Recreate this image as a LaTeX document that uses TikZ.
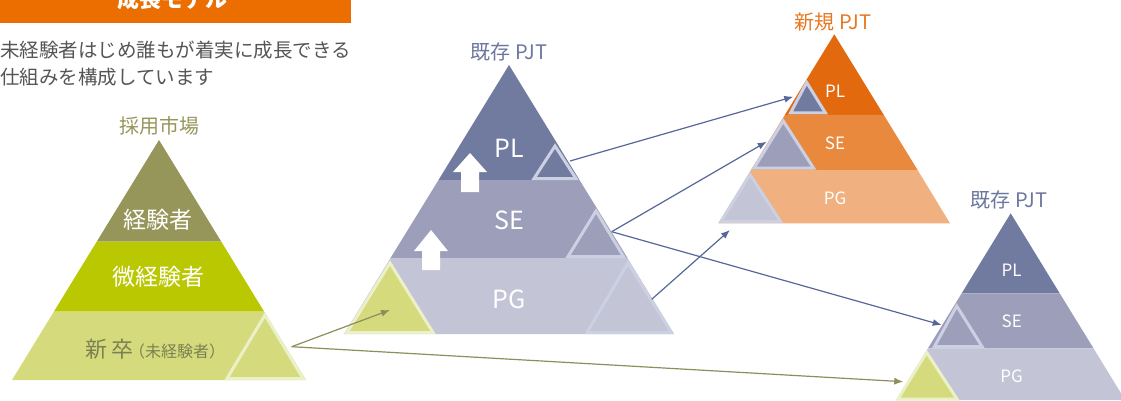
\documentclass[tikz,border=0pt]{standalone}
\usepackage{fontspec}
\setmainfont{Noto Sans CJK JP}
\usetikzlibrary{arrows.meta}
% couleurs
\definecolor{bandeau}{HTML}{EC6D00}
\definecolor{texte}{HTML}{555555}
\definecolor{olive}{HTML}{96955A}
\definecolor{lime}{HTML}{B9C800}
\definecolor{limeclair}{HTML}{D5DB7D}
\definecolor{limebord}{HTML}{EBF0C8}
\definecolor{bleuPL}{HTML}{717A9F}
\definecolor{bleuSE}{HTML}{9D9EBA}
\definecolor{bleuPG}{HTML}{C4C4D7}
\definecolor{bleubord}{HTML}{CBD0E2}
\definecolor{bleutexte}{HTML}{6D77A0}
\definecolor{orPL}{HTML}{E2690E}
\definecolor{orSE}{HTML}{E9893D}
\definecolor{orPG}{HTML}{F0B07F}
\definecolor{ortexte}{HTML}{E87722}
\definecolor{lienbleu}{HTML}{56679A}
\definecolor{lienolive}{HTML}{8E8E5A}
\definecolor{sotsu}{HTML}{7B8050}

\begin{document}
\begin{tikzpicture}[x=1pt,y=-1pt,
    titre/.style={inner sep=0pt, font=\fontsize{19.5}{19.5}\selectfont},
    grand/.style={text=white, inner sep=0pt, font=\fontsize{25}{25}\selectfont},
    petit/.style={text=white, inner sep=0pt, font=\fontsize{17}{17}\selectfont},
    coin/.style={line width=3pt, line join=miter},
    lien/.style={line width=1.2pt, -{Latex[length=9pt,width=7pt]}}]
    \useasboundingbox (0,0) rectangle (1121,401);
    % Bandeau
    \fill[bandeau] (0,0) rectangle (351,23);
    \node[titre, text=white, font=\fontsize{22}{22}\selectfont\bfseries] (modele) at (172,-1) {成長モデル};
    \node[titre, text=texte, anchor=west] (ligneA) at (0,50) {未経験者はじめ誰もが着実に成長できる};
    \node[titre, text=texte, anchor=west] (ligneB) at (0,77) {仕組みを構成しています};

    % Pyramide marché
    \fill[olive] (159,140) -- (221.3,241.7) -- (96.7,241.7) -- cycle;
    \fill[lime] (96.7,241.7) -- (221.3,241.7) -- (264.2,311.7) -- (53.8,311.7) -- cycle;
    \fill[limeclair] (53.8,311.7) -- (264.2,311.7) -- (306,380) -- (12,380) -- cycle;
    \filldraw[limeclair, draw=limebord, coin] (265,315) -- (303,378.5) -- (227,378.5) -- cycle;

    % Pyramide PJT existant
    \fill[bleuPL] (509,65) -- (579.5,180) -- (438.5,180) -- cycle;
    \fill[bleuSE] (438.5,180) -- (579.5,180) -- (627.5,258) -- (390.5,258) -- cycle;
    \fill[bleuPG] (390.5,258) -- (627.5,258) -- (674,334) -- (344,334) -- cycle;
    \filldraw[bleuPL, draw=bleubord, coin] (555,146) -- (576,178.5) -- (534,178.5) -- cycle;
    \filldraw[bleuSE, draw=bleubord, coin] (596,211) -- (623.5,256.5) -- (568,256.5) -- cycle;
    \filldraw[bleuPG, draw=bleubord, coin] (628,263) -- (671.5,332.5) -- (587,332.5) -- cycle;
    \filldraw[limeclair, draw=limebord, coin] (390,263) -- (433,332.5) -- (347,332.5) -- cycle;
    % Flèches blanches
    \fill[white] (470,153) -- (487,172) -- (479,172) -- (479,192) -- (461,192) -- (461,172) -- (453,172) -- cycle;
    \fill[white] (431,230) -- (448,251) -- (440,251) -- (440,270) -- (422,270) -- (422,251) -- (414,251) -- cycle;

    % Pyramide PJT nouveau
    \fill[orPL] (834.3,34.3) -- (883.8,115) -- (784.8,115) -- cycle;
    \fill[orSE] (784.8,115) -- (883.8,115) -- (917.6,170) -- (751,170) -- cycle;
    \fill[orPG] (751,170) -- (917.6,170) -- (950,223.3) -- (718.3,223.3) -- cycle;
    \filldraw[bleuPL, draw=bleubord, coin] (806.7,82.5) -- (825.5,113) -- (790.5,113) -- cycle;
    \filldraw[bleuSE, draw=bleubord, coin] (783.3,121) -- (813.5,168) -- (754,168) -- cycle;
    \filldraw[bleuPG, draw=bleubord, coin] (750,174.5) -- (780.5,221.5) -- (721,221.5) -- cycle;

    % Pyramide PJT existant (bas)
    \fill[bleuPL] (1010.7,213.3) -- (1059.7,293.3) -- (961.7,293.3) -- cycle;
    \fill[bleuSE] (961.7,293.3) -- (1059.7,293.3) -- (1093.5,348.3) -- (927.9,348.3) -- cycle;
    \fill[bleuPG] (927.9,348.3) -- (1093.5,348.3) -- (1125.1,400) -- (896.3,400) -- cycle;
    \filldraw[bleuSE, draw=bleubord, coin] (956.7,306) -- (982,346.5) -- (934.5,346.5) -- cycle;
    \filldraw[limeclair, draw=limebord, coin] (926.7,352.5) -- (957,399) -- (898,399) -- cycle;

    % Textes
    \node[titre, text=olive, font=\fontsize{20}{20}\selectfont] (marche) at (159,126) {採用市場};
    \node[grand, font=\fontsize{23}{23}\selectfont] (keiken) at (158,220) {経験者};
    \node[grand, font=\fontsize{23}{23}\selectfont] (bikeiken) at (158,277) {微経験者};
    \node[inner sep=0pt, text=sotsu] (shinsotsu) at (155,349) {{\fontsize{22}{22}\selectfont 新\hspace{5pt}卒}\hspace{-5pt}{\fontsize{16}{16}\selectfont （未経験者）}};
    \node[titre, text=bleutexte, font=\fontsize{20}{20}\selectfont] (kizon) at (509,52) {既存 PJT};
    \node[grand] (pl) at (509,148) {PL};
    \node[grand] (se) at (509,220) {SE};
    \node[grand] (pg) at (509,299) {PG};
    \node[titre, text=ortexte, font=\fontsize{20}{20}\selectfont] (shinki) at (833,21.7) {新規 PJT};
    \node[petit] (plN) at (835,91.7) {PL};
    \node[petit] (seN) at (835,143.3) {SE};
    \node[petit] (pgN) at (835,198.3) {PG};
    \node[titre, text=bleutexte, font=\fontsize{20}{20}\selectfont] (kizonB) at (1009,200) {既存 PJT};
    \node[petit] (plB) at (1011.7,270) {PL};
    \node[petit] (seB) at (1011.7,321.7) {SE};
    \node[petit] (pgB) at (1011.7,376.7) {PG};

    % Points d'attache
    \coordinate (depNeuf) at (291.7,346.7);
    \coordinate (arrVert) at (390,310);
    \coordinate (arrVertB) at (903.3,381.7);
    \coordinate (depPL) at (570,161);
    \coordinate (arrPL) at (793.3,96.7);
    \coordinate (depSE) at (611.7,231.7);
    \coordinate (arrSE) at (766.7,141.7);
    \coordinate (arrSEB) at (941.7,325);
    \coordinate (depPG) at (651.7,299.3);
    \coordinate (arrPG) at (730,230);
    % Liens
    \draw[lien, lienolive] (depNeuf) -- (arrVert);
    \draw[lien, lienolive] (depNeuf) -- (arrVertB);
    \draw[lien, lienbleu] (depPL) -- (arrPL);
    \draw[lien, lienbleu] (depSE) -- (arrSE);
    \draw[lien, lienbleu] (depSE) -- (arrSEB);
    \draw[lien, lienbleu] (depPG) -- (arrPG);
\end{tikzpicture}
\end{document}
